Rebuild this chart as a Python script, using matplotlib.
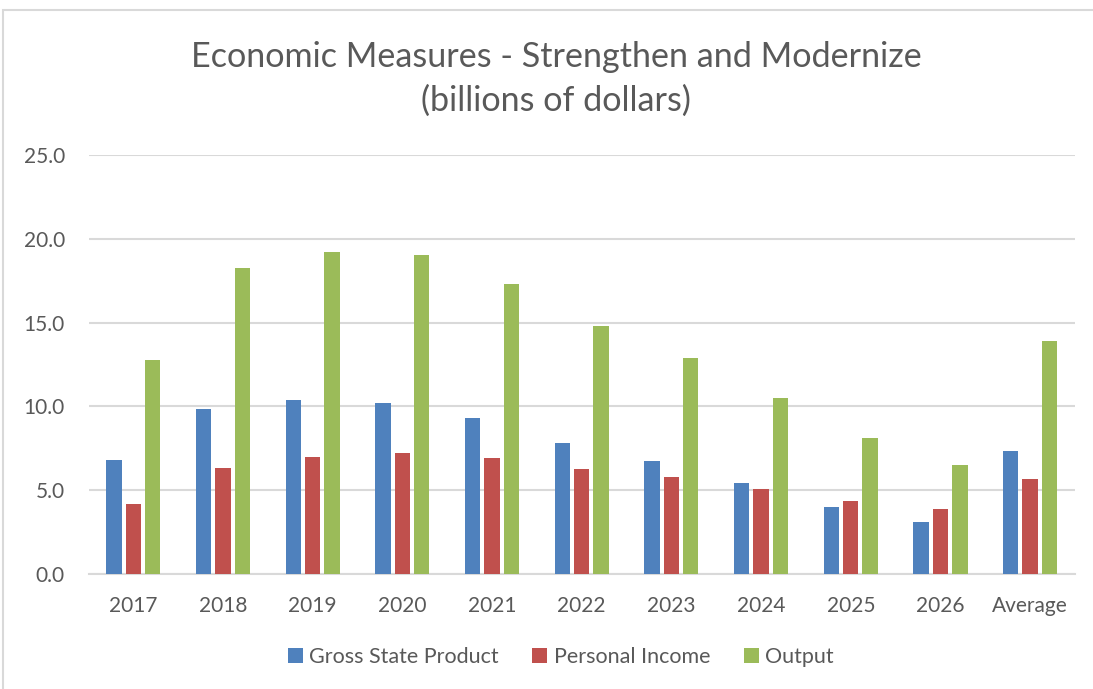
import matplotlib
matplotlib.use('Agg')
import matplotlib.pyplot as plt
import numpy as np
from matplotlib.patches import Rectangle

plt.rcParams['font.family'] = ['Lato', 'DejaVu Sans']

categories = ['2017', '2018', '2019', '2020', '2021', '2022', '2023', '2024', '2025', '2026', 'Average']
gross_state_product = [6.83, 9.85, 10.39, 10.23, 9.28, 7.84, 6.75, 5.41, 4.02, 3.12, 7.36]
personal_income = [4.16, 6.31, 7.01, 7.23, 6.93, 6.27, 5.77, 5.10, 4.36, 3.86, 5.69]
output = [12.76, 18.27, 19.23, 19.03, 17.28, 14.77, 12.86, 10.49, 8.10, 6.53, 13.93]

series = [
    ('Gross State Product', gross_state_product, '#4F81BD'),
    ('Personal Income', personal_income, '#C0504D'),
    ('Output', output, '#9BBB59'),
]

text_color = '#595959'
grid_color = '#D9D9D9'

fig = plt.figure(figsize=(10.93, 6.89), dpi=100)
ax = fig.add_axes([88.5 / 1093, (689 - 574) / 689, (1075 - 88.5) / 1093, (574 - 155) / 689])

x = np.arange(len(categories))
pitch = 0.216
width = 0.171
for i, (name, vals, color) in enumerate(series):
    ax.bar(x + (i - 1) * pitch, vals, width, color=color, label=name, zorder=3)

ax.set_xlim(-0.5, len(categories) - 0.5)
ax.set_ylim(0, 25)
ax.set_yticks(np.arange(0, 25.1, 5))
ax.set_yticklabels([f'{v:.1f}' for v in np.arange(0, 25.1, 5)])
ax.set_xticks(x)
ax.set_xticklabels(categories)
ax.yaxis.grid(True, color=grid_color, linewidth=1.5, zorder=0)
ax.tick_params(axis='both', length=0, labelsize=15, colors=text_color)
ax.tick_params(axis='y', pad=17)
ax.tick_params(axis='x', pad=16)
for side in ['top', 'right', 'left']:
    ax.spines[side].set_visible(False)
ax.spines['bottom'].set_color(grid_color)
ax.spines['bottom'].set_linewidth(1.5)

fig.text(0.509, 1 - 79 / 689, 'Economic Measures - Strengthen and Modernize\n(billions of dollars)',
         ha='center', va='center', fontsize=24.6, color=text_color, linespacing=1.45)

fig.legend(loc='center', bbox_to_anchor=(0.513, 1 - 657 / 689), ncol=3, frameon=False,
           fontsize=15.5, labelcolor=text_color, handlelength=0.7, handleheight=0.7,
           handletextpad=0.3, columnspacing=1.55)

fig.patches.append(Rectangle((3 / 1093, -0.1), 1.2, 1 - 10 / 689 + 0.1, transform=fig.transFigure,
                             fill=False, edgecolor=grid_color, linewidth=1.5))

fig.savefig('out.png', dpi=100)
